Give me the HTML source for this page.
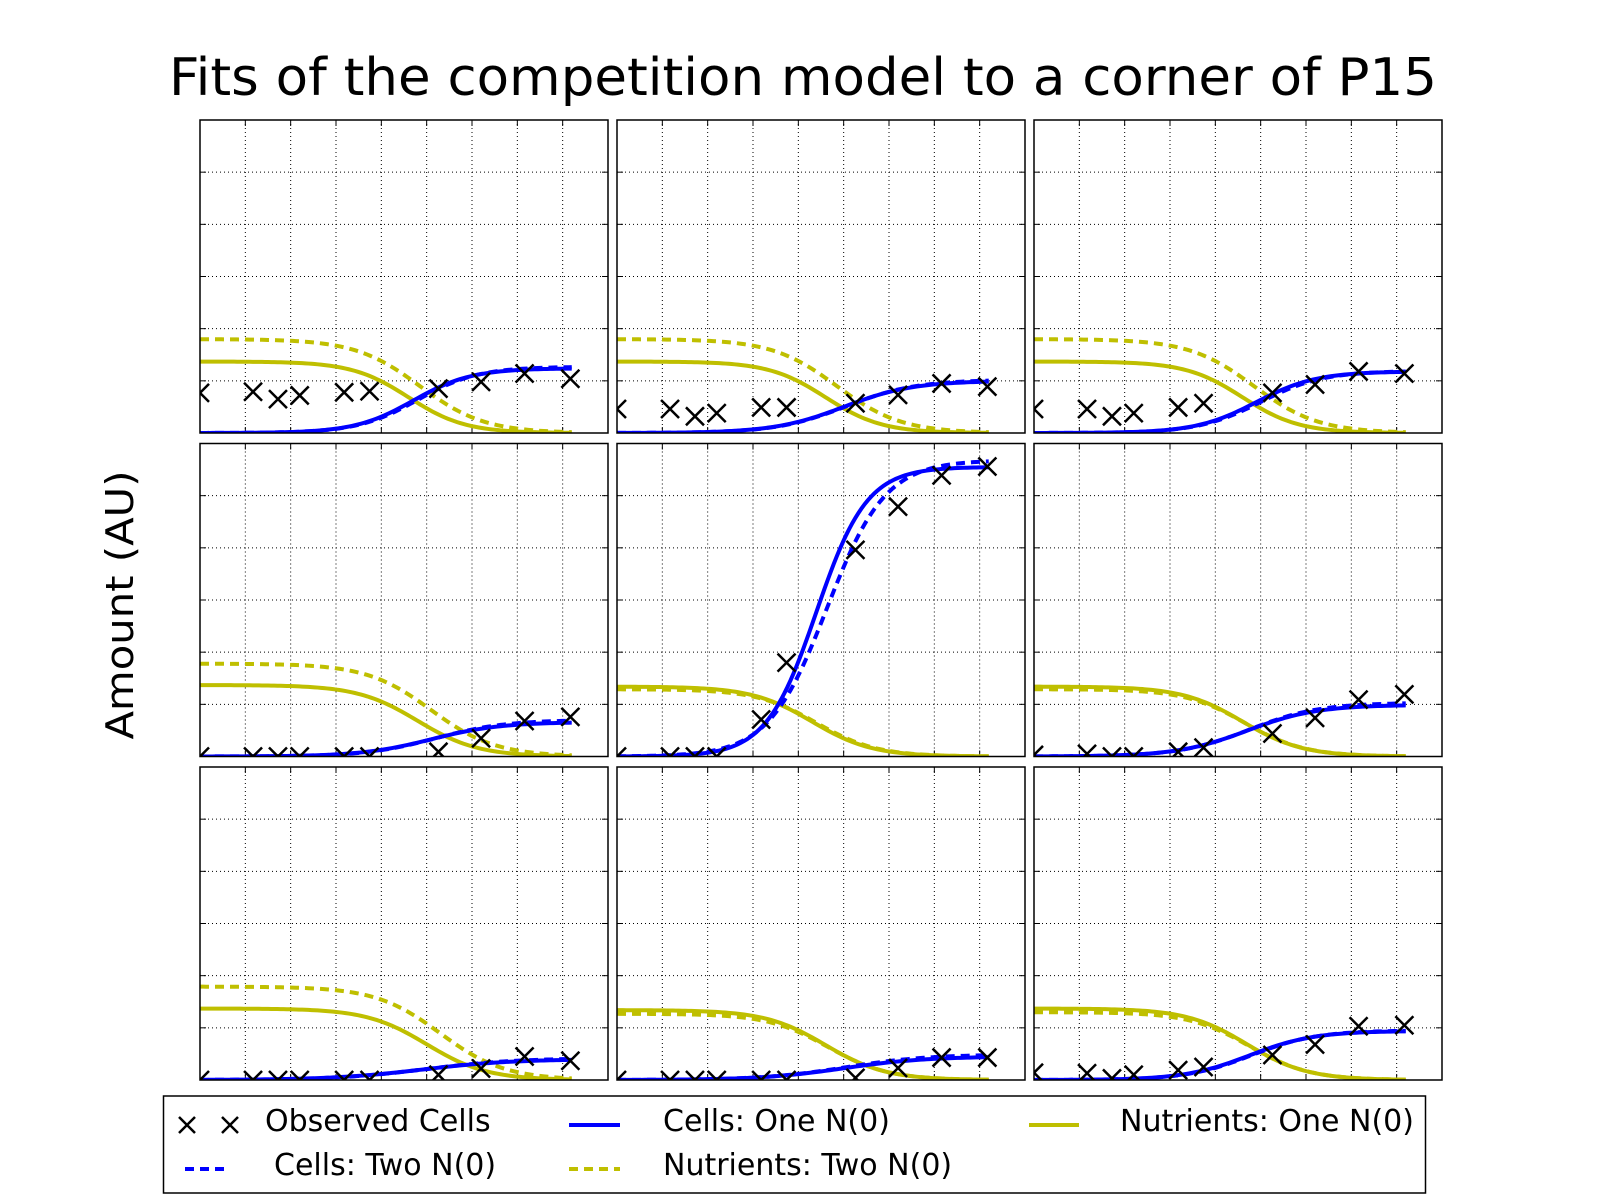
<!DOCTYPE html>
<html><head><meta charset="utf-8"><title>Fits of the competition model</title>
<style>html,body{margin:0;padding:0;background:#fff;}svg{display:block;}</style></head>
<body>
<svg id="chart" width="1600" height="1200" xmlns="http://www.w3.org/2000/svg" font-family="'DejaVu Sans','Liberation Sans',sans-serif">
<rect x="0" y="0" width="1600" height="1200" fill="#fff"/>
<text x="803" y="95" font-size="52" text-anchor="middle" textLength="1268" lengthAdjust="spacingAndGlyphs">Fits of the competition model to a corner of P15</text>
<text transform="translate(133,605) rotate(-90)" font-size="38" text-anchor="middle" textLength="269" lengthAdjust="spacingAndGlyphs">Amount (AU)</text>
<g id="panels"></g>
<g>
<rect x="163.5" y="1096" width="1262" height="97" fill="#fff" stroke="#000" stroke-width="1.5"/>
<g>
<path d="M179,1117 l16,16 M195,1117 l-16,16 M222,1117 l16,16 M238,1117 l-16,16" stroke="#000" stroke-width="2.5"/>
<text x="265" y="1131" font-size="30">Observed Cells</text></g>
<g>
<line x1="569" y1="1125" x2="620" y2="1125" stroke="#0000ff" stroke-width="4"/>
<text x="663" y="1131" font-size="30">Cells: One N(0)</text></g>
<g>
<line x1="1029" y1="1125" x2="1079" y2="1125" stroke="#bfbf00" stroke-width="4"/>
<text x="1120" y="1131" font-size="30">Nutrients: One N(0)</text></g>
<g>
<line x1="185" y1="1169" x2="228" y2="1169" stroke="#0000ff" stroke-width="4" stroke-dasharray="9,6"/>
<text x="274" y="1175" font-size="30">Cells: Two N(0)</text></g>
<g>
<line x1="569" y1="1169" x2="620" y2="1169" stroke="#bfbf00" stroke-width="4" stroke-dasharray="9,6"/>
<text x="663" y="1175" font-size="30">Nutrients: Two N(0)</text></g>
</g>
</svg>
<script>
// shared observation times (panel order: row-major, 9 panels)
const obsTimes = [0, 1.17, 1.72, 2.2, 3.18, 3.74, 5.26, 6.2, 7.16, 8.17];
const obsValues = [
  [0.77, 0.79, 0.65, 0.72, 0.78, 0.80, 0.85, 0.98, 1.14, 1.04],
  [0.46, 0.46, 0.32, 0.38, 0.49, 0.49, 0.57, 0.73, 0.95, 0.89],
  [0.46, 0.46, 0.32, 0.38, 0.49, 0.57, 0.77, 0.93, 1.18, 1.14],
  [0.0, 0.0, 0.0, 0.0, 0.0, 0.0, 0.09, 0.35, 0.68, 0.76],
  [0.0, 0.0, 0.0, 0.0, 0.71, 1.80, 3.96, 4.79, 5.39, 5.56],
  [0.03, 0.05, 0.0, 0.0, 0.09, 0.17, 0.44, 0.74, 1.09, 1.19],
  [0.0, 0.0, 0.0, 0.0, 0.0, 0.0, 0.10, 0.22, 0.45, 0.37],
  [0.0, 0.0, 0.0, 0.0, 0.0, 0.0, 0.04, 0.23, 0.43, 0.43],
  [0.14, 0.13, 0.03, 0.10, 0.19, 0.25, 0.48, 0.68, 1.03, 1.05]
];
// fitted logistic parameters per panel
const cellOnePlateau = [1.24, 1.00, 1.18, 0.66, 5.55, 0.99, 0.40, 0.45, 0.94];
const cellOneMid     = [4.7, 5.0, 4.9, 5.1, 4.4, 4.7, 4.9, 5.0, 4.75];
const cellOneRate    = [1.55, 1.3, 1.5, 1.3, 1.8, 1.3, 1.0, 1.1, 1.4];
const cellTwoPlateau = [1.27, 1.02, 1.19, 0.70, 5.68, 1.03, 0.42, 0.49, 0.95];
const cellTwoMid     = [4.8, 5.05, 5.0, 5.2, 4.63, 4.75, 5.0, 5.05, 4.8];
const cellTwoRate    = [1.5, 1.3, 1.45, 1.3, 1.55, 1.3, 1.0, 1.1, 1.4];
const nutOneStart    = [1.37, 1.37, 1.37, 1.37, 1.34, 1.34, 1.37, 1.34, 1.37];
const nutOneMid      = [4.6, 4.6, 4.6, 4.8, 4.3, 4.6, 5.0, 4.6, 4.7];
const nutOneRate     = [1.6, 1.6, 1.6, 1.5, 1.5, 1.5, 1.5, 1.5, 1.5];
const nutTwoStart    = [1.80, 1.80, 1.80, 1.78, 1.29, 1.29, 1.79, 1.27, 1.30];
const nutTwoMid      = [4.85, 4.85, 4.85, 5.1, 4.4, 4.65, 5.3, 4.65, 4.75];
const nutTwoRate     = [1.4, 1.4, 1.4, 1.4, 1.5, 1.5, 1.4, 1.5, 1.5];
const curveEnd = 8.2;
const xTicks = [1, 2, 3, 4, 5, 6, 7, 8];
const yTicks = [1, 2, 3, 4, 5];

const NS = 'http://www.w3.org/2000/svg';
const lefts = [200, 617, 1034], tops = [120, 443.5, 767];
const PW = 408, PH = 313, XMAX = 9, YMAX = 6;
const root = document.getElementById('panels');
function mk(tag, attrs, parent) {
  const e = document.createElementNS(NS, tag);
  for (const k in attrs) e.setAttribute(k, attrs[k]);
  parent.appendChild(e);
  return e;
}
function logistic(t, a, m, k, rising) {
  const s = 1 / (1 + Math.exp(-k * (t - m)));
  return rising ? a * s : a * (1 - s);
}
for (let p = 0; p < 9; p++) {
  const L = lefts[p % 3], T = tops[Math.floor(p / 3)];
  const xs = v => L + v / XMAX * PW;
  const ys = v => T + PH - v / YMAX * PH;
  const g = mk('g', {}, root);
  
  
  const cid = 'clip' + p;
  const cp = mk('clipPath', {id: cid}, g);
  mk('rect', {x: L, y: T, width: PW, height: PH}, cp);
  mk('rect', {x: L, y: T, width: PW, height: PH, fill: '#fff'}, g);
  const grid = mk('g', {stroke: '#000', 'stroke-width': 1, 'stroke-dasharray': '1,3'}, g);
  
  
  xTicks.forEach(v => {
    mk('line', {x1: xs(v), x2: xs(v), y1: T, y2: T + PH}, grid);
    mk('line', {x1: xs(v), x2: xs(v), y1: T, y2: T + 6, stroke: '#000'}, g);
    mk('line', {x1: xs(v), x2: xs(v), y1: T + PH, y2: T + PH - 6, stroke: '#000'}, g);
  });
  yTicks.forEach(v => {
    mk('line', {x1: L, x2: L + PW, y1: ys(v), y2: ys(v)}, grid);
    mk('line', {x1: L, x2: L + 6, y1: ys(v), y2: ys(v), stroke: '#000'}, g);
    mk('line', {x1: L + PW, x2: L + PW - 6, y1: ys(v), y2: ys(v), stroke: '#000'}, g);
  });
  const series = mk('g', {'clip-path': 'url(#' + cid + ')'}, g);
  function curve(a, m, k, rising, color, dashed, name) {
    let d = '';
    for (let i = 0; i <= 120; i++) {
      const t = curveEnd * i / 120;
      d += (i ? 'L' : 'M') + xs(t).toFixed(2) + ',' + ys(logistic(t, a, m, k, rising)).toFixed(2);
    }
    const path = mk('path', {d: d, fill: 'none', stroke: color, 'stroke-width': 4}, series);
    if (dashed) path.setAttribute('stroke-dasharray', '9,6');
    
    
  }
  curve(nutOneStart[p], nutOneMid[p], nutOneRate[p], false, '#bfbf00', false, 'nutrients-one-line');
  curve(nutTwoStart[p], nutTwoMid[p], nutTwoRate[p], false, '#bfbf00', true, 'nutrients-two-line');
  curve(cellOnePlateau[p], cellOneMid[p], cellOneRate[p], true, '#0000ff', false, 'cells-one-line');
  curve(cellTwoPlateau[p], cellTwoMid[p], cellTwoRate[p], true, '#0000ff', true, 'cells-two-line');
  obsTimes.forEach((t, i) => {
    const cx = xs(t), cy = ys(obsValues[p][i]);
    const m = mk('path', {d: `M${cx-9},${cy-9}L${cx+9},${cy+9}M${cx+9},${cy-9}L${cx-9},${cy+9}`, stroke: '#000', 'stroke-width': 2.5}, series);
    
    
  });
  const frame = mk('rect', {x: L, y: T, width: PW, height: PH, fill: 'none', stroke: '#000', 'stroke-width': 1.5}, g);
  
  
}
</script>
</body></html>
